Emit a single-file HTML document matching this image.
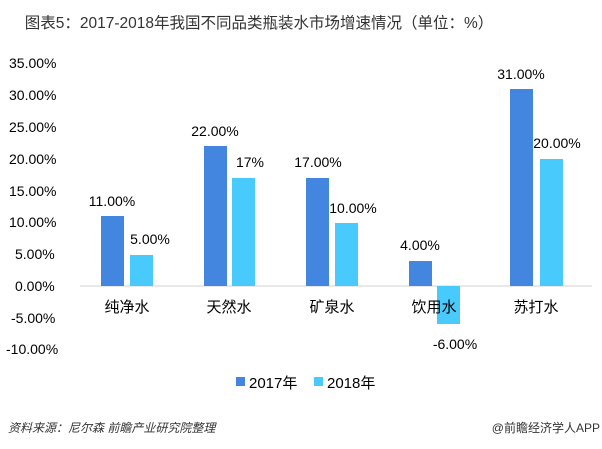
<!DOCTYPE html><html><head><meta charset="utf-8"><style>body{margin:0;background:#fff}svg{display:block}text{font-family:"Liberation Sans","Noto Sans CJK SC",sans-serif}</style></head><body>
<svg width="602" height="449" viewBox="0 0 602 449">
<text x="259" y="28" font-size="15.5" fill="#333" text-anchor="middle">图表5：2017-2018年我国不同品类瓶装水市场增速情况（单位：%）</text>
<g font-size="14" fill="#000">
<text x="9" y="68">35.00%</text><text x="9" y="100">30.00%</text><text x="9" y="132">25.00%</text><text x="9" y="164">20.00%</text><text x="9" y="196">15.00%</text><text x="9" y="227">10.00%</text><text x="15" y="259">5.00%</text><text x="15" y="291">0.00%</text><text x="11" y="323">-5.00%</text><text x="6" y="354">-10.00%</text>
</g>
<line x1="80" y1="286" x2="592" y2="286" stroke="#d0d0d0" stroke-width="1"/>
<g fill="#4286e0">
<rect x="101" y="216" width="23" height="70"/><rect x="204" y="146" width="23" height="140"/><rect x="306" y="178" width="23" height="108"/><rect x="409" y="261" width="23" height="25"/><rect x="510" y="89" width="23" height="197"/>
</g>
<g fill="#48cbfc">
<rect x="130" y="255" width="23" height="31"/><rect x="232" y="178" width="23" height="108"/><rect x="335" y="223" width="23" height="63"/><rect x="437" y="286" width="23" height="38"/><rect x="540" y="159" width="23" height="127"/>
</g>
<g font-size="14" fill="#000" text-anchor="middle">
<text x="112" y="206">11.00%</text><text x="150" y="244">5.00%</text>
<text x="215" y="136">22.00%</text><text x="250" y="167">17%</text>
<text x="318" y="167">17.00%</text><text x="353" y="213">10.00%</text>
<text x="420" y="250">4.00%</text><text x="455" y="349">-6.00%</text>
<text x="521" y="79">31.00%</text><text x="557" y="148">20.00%</text>
</g>
<g font-size="15" fill="#000" text-anchor="middle">
<text x="127" y="312">纯净水</text><text x="229" y="312">天然水</text><text x="332" y="312">矿泉水</text><text x="434" y="312">饮用水</text><text x="536" y="312">苏打水</text>
</g>
<rect x="236" y="377" width="9" height="9" fill="#4286e0"/><text x="249" y="388" font-size="15">2017年</text>
<rect x="314" y="377" width="9" height="9" fill="#48cbfc"/><text x="327" y="388" font-size="15">2018年</text>
<text x="8" y="432" font-size="12" fill="#333" font-style="italic">资料来源：尼尔森 前瞻产业研究院整理</text>
<text x="600" y="432" font-size="12" fill="#333" text-anchor="end">@前瞻经济学人APP</text>
</svg></body></html>
